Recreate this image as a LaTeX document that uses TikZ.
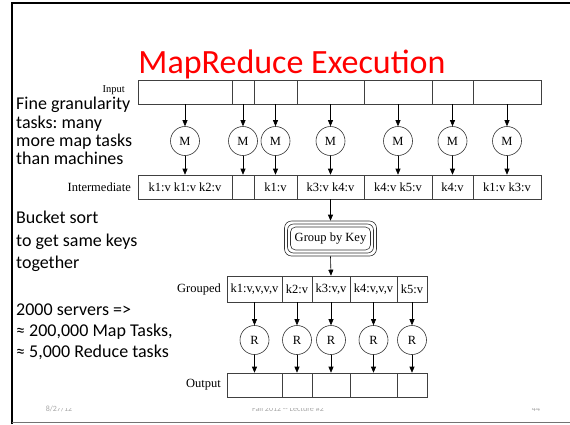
\documentclass[tikz,border=0pt]{standalone}
\usepackage{fontspec}
\setmainfont{Liberation Serif}
\newfontfamily\calib{Carlito}
\frenchspacing
\usetikzlibrary{arrows.meta}
\tikzset{
  cell/.style={draw=black!75, line width=0.6pt, minimum height=24pt, inner sep=0pt, font=\fontsize{12.5}{14}\selectfont},
  task/.style={circle, draw=black!80, line width=0.6pt, minimum size=29pt, inner sep=0pt, font=\fontsize{12.5}{14}\selectfont},
  flow/.style={draw=black, line width=0.6pt, -{Triangle[length=6pt,width=5pt]}},
  rowlabel/.style={font=\fontsize{12.5}{14}\selectfont, inner sep=0pt},
  side/.style={font=\calib\fontsize{18}{20}\selectfont, anchor=base west, inner sep=0pt},
  foot/.style={font=\calib\fontsize{8}{9}\selectfont, text=black!35, inner sep=0pt, anchor=base}
}
\begin{document}
\begin{tikzpicture}[x=1pt,y=-1pt]
\useasboundingbox (0,0) rectangle (570,424);
% slide frame
\draw[line width=2pt, black] (12,424) -- (12,3) -- (570,3);
\draw[line width=1.2pt, black!55] (12,422.5) -- (570,422.5);
% footer (partly covered by the diagram picture)
\node[foot] (f1) at (59,411) {8/27/12};
\node[foot] (f2) at (288,411) {Fall 2012 {-}{-} Lecture \#2};
\node[foot] (f3) at (536,411) {44};
\fill[white] (57,398) rectangle (548,408.3);
% title
\node[font=\calib\fontsize{34}{38}\selectfont, text=red, anchor=base, inner sep=0pt] (title) at (292,73) {MapReduce Execution};
% side text
\node[side] (s1) at (16,109) {Fine granularity};
\node[side] (s2) at (16,128) {tasks: many};
\node[side] (s3) at (16,146) {more map tasks};
\node[side] (s4) at (16,164) {than machines};
\node[side] (s5) at (16,223) {Bucket sort};
\node[side] (s6) at (16,246) {to get same keys};
\node[side] (s7) at (16,268) {together};
\node[side] (s8) at (16,315) {2000 servers =>};
\node[side] (s9) at (16,336) {≈ 200,000 Map Tasks,};
\node[side] (s10) at (16,357) {≈ 5,000 Reduce tasks};
% input row
\node[rowlabel, anchor=base east] (linput) at (125,92) {\fontsize{10.5}{12}\selectfont Input};
\node[cell, minimum width=94pt] (in1) at (185,92) {};
\node[cell, minimum width=22pt] (in2) at (243,92) {};
\node[cell, minimum width=43pt] (in3) at (275.5,92) {};
\node[cell, minimum width=67pt] (in4) at (330.5,92) {};
\node[cell, minimum width=68pt] (in5) at (398,92) {};
\node[cell, minimum width=41pt] (in6) at (452.5,92) {};
\node[cell, minimum width=68pt] (in7) at (507,92) {};
% map tasks
\foreach \i/\x in {1/185,2/243,3/275.5,4/330.5,5/398,6/452.5,7/507}{
  \node[task] (M\i) at (\x,141) {M};
}
% intermediate row
\node[rowlabel, anchor=east] (linter) at (131,187) {Intermediate};
\node[cell, minimum width=94pt] (im1) at (185,187) {k1:v k1:v k2:v};
\node[cell, minimum width=22pt] (im2) at (243,187) {};
\node[cell, minimum width=43pt] (im3) at (275.5,187) {k1:v};
\node[cell, minimum width=67pt] (im4) at (330.5,187) {k3:v k4:v};
\node[cell, minimum width=68pt] (im5) at (398,187) {k4:v k5:v};
\node[cell, minimum width=41pt] (im6) at (452.5,187) {k4:v};
\node[cell, minimum width=68pt] (im7) at (507,187) {k1:v k3:v};
\foreach \i in {1,...,7}{
  \draw[flow] (in\i.south) -- (M\i.north);
  \draw[flow] (M\i.south) -- (im\i.north);
}
% group by key
\node[draw=black!80, line width=0.6pt, rounded corners=7pt, minimum width=92pt, minimum height=35pt, inner sep=0pt] (gb) at (330.5,238.5) {};
\node[draw=black!80, line width=0.6pt, rounded corners=6pt, minimum width=86pt, minimum height=29pt, inner sep=0pt] (gbm) at (330.5,238.5) {};
\node[draw=black!80, line width=0.6pt, rounded corners=5pt, minimum width=80pt, minimum height=23pt, inner sep=0pt, font=\fontsize{12.5}{14}\selectfont] (gbi) at (330.5,238.5) {Group by Key};
\draw[flow] (im4.south) -- (gb.north);
% grouped row
\node[rowlabel, anchor=east] (lgroup) at (221,289) {Grouped};
\node[cell, minimum width=55pt, minimum height=26pt] (g1) at (254.5,289) {k1:v,v,v,v};
\node[cell, minimum width=30pt, minimum height=26pt] (g2) at (297,289) {k2:v};
\node[cell, minimum width=38pt, minimum height=26pt] (g3) at (331,289) {k3:v,v};
\node[cell, minimum width=47pt, minimum height=26pt] (g4) at (373.5,289) {k4:v,v,v};
\node[cell, minimum width=30pt, minimum height=26pt] (g5) at (412,289) {k5:v};
\draw[flow] (gb.south) -- (g3.north);
% reduce tasks
\foreach \i/\x in {1/254.5,2/297,3/331,4/373.5,5/412}{
  \node[task] (R\i) at (\x,340) {R};
}
% output row
\node[rowlabel, anchor=east] (lout) at (221,385) {Output};
\node[cell, minimum width=55pt] (o1) at (254.5,385) {};
\node[cell, minimum width=30pt] (o2) at (297,385) {};
\node[cell, minimum width=38pt] (o3) at (331,385) {};
\node[cell, minimum width=47pt] (o4) at (373.5,385) {};
\node[cell, minimum width=30pt] (o5) at (412,385) {};
\foreach \i in {1,...,5}{
  \draw[flow] (g\i.south) -- (R\i.north);
  \draw[flow] (R\i.south) -- (o\i.north);
}
\end{tikzpicture}
\end{document}
